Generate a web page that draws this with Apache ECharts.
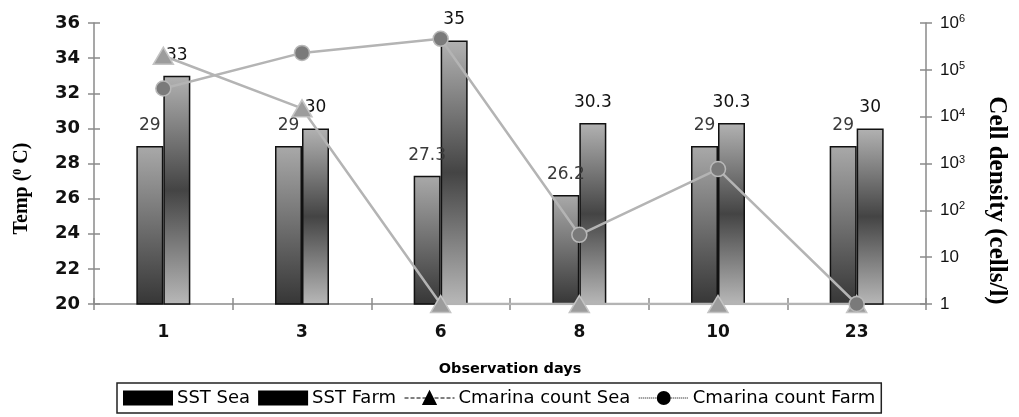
<!DOCTYPE html>
<html>
<head>
<meta charset="utf-8">
<script src="https://cdn.jsdelivr.net/npm/echarts@6/dist/echarts.min.js"></script>
<style>
html,body{margin:0;padding:0;background:#fff;}
#chart{width:1019px;height:417px;}
</style>
</head>
<body>
<div id="chart"></div>
<script>
// ---- data ----
const days = ['1', '3', '6', '8', '10', '23'];
const sstSea = [29, 29, 27.3, 26.2, 29, 29];
const sstFarm = [33, 30, 35, 30.3, 30.3, 30];
const countSea = [200000, 15000, 1, 1, 1, 1];
const countFarm = [40000, 230000, 460000, 30, 760, 1];
const tempTicks = [20, 22, 24, 26, 28, 30, 32, 34, 36];
const densityExponents = [0, 1, 2, 3, 4, 5, 6];
const seriesNames = ['SST Sea', 'SST Farm', 'Cmarina count Sea', 'Cmarina count Farm'];

const AXIS = '#8a8a8a';
const chart = echarts.init(document.getElementById('chart'));

function densityLabel(v) {
  const e = Math.round(Math.log10(v));
  if (densityExponents.indexOf(e) < 0) return '';
  if (e === 0) return '{n|1}';
  if (e === 1) return '{n|10}';
  return '{n|10}{s|' + e + '}';
}

const seaGrad = new echarts.graphic.LinearGradient(0, 0, 0, 1, [
  { offset: 0, color: '#a9a9a9' },
  { offset: 1, color: '#363636' }
]);
const farmGrad = new echarts.graphic.LinearGradient(0, 0, 0, 1, [
  { offset: 0, color: '#b2b2b2' },
  { offset: 0.5, color: '#444444' },
  { offset: 1, color: '#b8b8b8' }
]);

const option = {
  animation: false,
  backgroundColor: '#ffffff',
  grid: { left: 94, right: 93, top: 23, bottom: 113, containLabel: false },
  legend: {
    left: 117, top: 383,
    padding: [6, 6, 6, 6],
    borderColor: '#222', borderWidth: 1.5,
    itemWidth: 50, itemHeight: 15, itemGap: 8,
    textStyle: { fontFamily: 'DejaVu Sans', fontSize: 18, color: '#000', padding: [0, 0, 0, -1] },
    data: [
      { name: seriesNames[0], icon: 'rect', itemStyle: { color: '#000', borderWidth: 0 } },
      { name: seriesNames[1], icon: 'rect', itemStyle: { color: '#000', borderWidth: 0 } },
      { name: seriesNames[2], itemStyle: { color: '#000', borderColor: '#000' }, lineStyle: { color: '#000', type: 'dashed', width: 1 } },
      { name: seriesNames[3], itemStyle: { color: '#000', borderColor: '#000' }, lineStyle: { color: '#000', type: 'dotted', width: 1 } }
    ]
  },
  xAxis: [
    {
      type: 'category', data: days, boundaryGap: true,
      name: 'Observation days', nameLocation: 'middle', nameGap: 58,
      nameTextStyle: { fontFamily: 'DejaVu Sans', fontWeight: 'bold', fontSize: 14.5, color: '#000' },
      axisLine: { lineStyle: { color: AXIS, width: 1.5 } },
      axisTick: { show: true, length: 6, lineStyle: { color: AXIS, width: 1.5 } },
      axisLabel: { margin: 20, fontFamily: 'DejaVu Sans', fontWeight: 'bold', fontSize: 17, color: '#111' },
      splitLine: { show: false }
    },
    {
      type: 'category', data: days, boundaryGap: true, position: 'bottom',
      axisLine: { show: false },
      axisTick: { show: true, inside: true, length: 6, lineStyle: { color: AXIS, width: 1.5 } },
      axisLabel: { show: false }, splitLine: { show: false }
    }
  ],
  yAxis: [
    {
      type: 'value', min: 20, max: 36, interval: 2, position: 'left',
      name: 'Temp ({sup|0} C)', nameLocation: 'middle', nameGap: 62, nameRotate: 90,
      nameTextStyle: {
        fontFamily: 'Liberation Serif', fontWeight: 'bold', fontSize: 20, color: '#000',
        padding: [0, 50, 0, 0],
        rich: { sup: { fontFamily: 'Liberation Serif', fontWeight: 'bold', fontSize: 12, verticalAlign: 'top', padding: [0, 0, 7, 0] } }
      },
      axisLine: { show: true, lineStyle: { color: AXIS, width: 1.5 } },
      axisTick: { show: true, length: 6, lineStyle: { color: AXIS, width: 1.5 } },
      axisLabel: { margin: 14, fontFamily: 'DejaVu Sans', fontWeight: 'bold', fontSize: 18, color: '#111',
        formatter: v => (tempTicks.indexOf(v) >= 0 ? String(v) : '') },
      splitLine: { show: false }
    },
    {
      type: 'log', logBase: 10, min: 1, max: 1000000, position: 'right',
      name: 'Cell density (cells/l)', nameLocation: 'middle', nameGap: 58, nameRotate: -90,
      nameTextStyle: { fontFamily: 'Liberation Serif', fontWeight: 'bold', fontSize: 25, color: '#000', padding: [0, 0, 0, 74] },
      axisLine: { show: true, lineStyle: { color: AXIS, width: 1.5 } },
      axisTick: { show: true, length: 6, lineStyle: { color: AXIS, width: 1.5 } },
      axisLabel: {
        margin: 14, formatter: densityLabel,
        rich: {
          n: { fontFamily: 'Liberation Sans', fontSize: 17, color: '#111' },
          s: { fontFamily: 'Liberation Sans', fontSize: 11, color: '#111', verticalAlign: 'top', padding: [0, 0, 8, 0] }
        }
      },
      splitLine: { show: false }
    },
    {
      type: 'value', min: 20, max: 36, interval: 2, position: 'left',
      axisLine: { show: false },
      axisTick: { show: true, inside: true, length: 6, lineStyle: { color: AXIS, width: 1.5 } },
      axisLabel: { show: false }, splitLine: { show: false }
    },
    {
      type: 'log', logBase: 10, min: 1, max: 1000000, position: 'right',
      axisLine: { show: false },
      axisTick: { show: true, inside: true, length: 6, lineStyle: { color: AXIS, width: 1.5 } },
      axisLabel: { show: false }, splitLine: { show: false }
    }
  ],
  series: [
    {
      name: seriesNames[0], type: 'bar', data: sstSea, xAxisIndex: 0, yAxisIndex: 0,
      barWidth: 27, barGap: '0%',
      itemStyle: { color: seaGrad, borderColor: '#111', borderWidth: 1.5 },
      label: { show: true, position: 'top', distance: 12, fontFamily: 'DejaVu Sans', fontSize: 17, color: '#3a3a3a' },
      z: 2
    },
    {
      name: seriesNames[1], type: 'bar', data: sstFarm, xAxisIndex: 0, yAxisIndex: 0,
      barWidth: 27, barGap: '0%',
      itemStyle: { color: farmGrad, borderColor: '#111', borderWidth: 1.5 },
      label: { show: true, position: 'top', distance: 12, fontFamily: 'DejaVu Sans', fontSize: 17, color: '#111' },
      z: 2
    },
    {
      name: seriesNames[2], type: 'line', data: countSea, xAxisIndex: 0, yAxisIndex: 1,
      symbol: 'triangle', symbolSize: [20, 17],
      lineStyle: { color: '#b4b4b4', width: 2.5 },
      itemStyle: { color: '#9c9c9c', borderColor: '#c4c4c4', borderWidth: 1.5 },
      z: 4
    },
    {
      name: seriesNames[3], type: 'line', data: countFarm, xAxisIndex: 0, yAxisIndex: 1,
      symbol: 'circle', symbolSize: 15,
      lineStyle: { color: '#b4b4b4', width: 2.5 },
      itemStyle: { color: '#7a7a7a', borderColor: '#b8b8b8', borderWidth: 1.5 },
      z: 4
    }
  ]
};
chart.setOption(option);
</script>
</body>
</html>
